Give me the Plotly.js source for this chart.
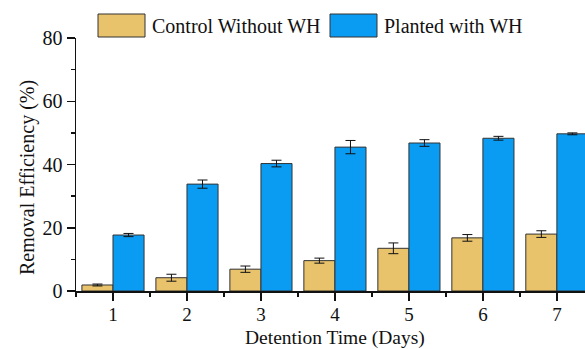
<!DOCTYPE html>
<html>
<head>
<meta charset="utf-8">
<script src="https://cdn.plot.ly/plotly-3.0.1.min.js"></script>
<style>html,body{margin:0;padding:0;background:#fff;}#chart{width:585px;height:349px;}</style>
</head>
<body>
<div id="chart"></div>
<script>
const days = [1, 2, 3, 4, 5, 6, 7];
const controlValues = [1.9, 4.2, 6.9, 9.6, 13.5, 16.8, 18.0];
const controlErrors = [0.3, 1.1, 1.0, 0.8, 1.7, 1.05, 1.05];
const plantedValues = [17.7, 33.8, 40.3, 45.5, 46.8, 48.3, 49.7];
const plantedErrors = [0.5, 1.3, 1.05, 2.1, 1.05, 0.6, 0.3];
const seriesNames = ['Control Without WH', 'Planted with WH'];
const xTitle = 'Detention Time (Days)';
const yTitle = 'Removal Efficiency (%)';
const goldColor = '#E8C36B';
const blueColor = '#0A9CF2';

const font = {family: 'Liberation Serif, Times New Roman, serif', size: 20, color: '#111'};
const tickFontX = {family: font.family, size: 19, color: '#111'};

const traces = [
  {
    type: 'bar', name: seriesNames[0], x: days, y: controlValues,
    marker: {color: goldColor, line: {color: '#333', width: 1}},
    error_y: {type: 'data', array: controlErrors, visible: true, color: '#111', thickness: 1, width: 5}
  },
  {
    type: 'bar', name: seriesNames[1], x: days, y: plantedValues,
    marker: {color: blueColor, line: {color: '#333', width: 1}},
    error_y: {type: 'data', array: plantedErrors, visible: true, color: '#111', thickness: 1, width: 5}
  }
];

const px = v => (v - 76) / 509;
const py = v => (291 - v) / 253;

const layout = {
  width: 585, height: 349,
  margin: {l: 76, r: 0, t: 38, b: 58, pad: 0},
  paper_bgcolor: '#fff', plot_bgcolor: '#fff',
  showlegend: false,
  barmode: 'group', bargap: 0.16, bargroupgap: 0,
  font: font,
  xaxis: {
    range: [0.5, 7.38], tickmode: 'array', tickvals: days, ticktext: days.map(String),
    showgrid: false, zeroline: false, showline: true, linecolor: '#111', linewidth: 1.5,
    ticks: 'outside', ticklen: 8, tickwidth: 1.5, tickcolor: '#111',
    minor: {dtick: 0.5, tick0: 0.5, ticks: 'outside', ticklen: 4, tickwidth: 1.5, tickcolor: '#111', showgrid: false},
    tickfont: tickFontX, ticklabelstandoff: -2
  },
  yaxis: {
    range: [0, 80], dtick: 20, tick0: 0,
    showgrid: false, zeroline: false, showline: true, linecolor: '#111', linewidth: 1.5,
    ticks: 'outside', ticklen: 8, tickwidth: 1.5, tickcolor: '#111',
    minor: {dtick: 10, ticks: 'outside', ticklen: 4, tickwidth: 1.5, tickcolor: '#111', showgrid: false},
    tickfont: font
  },
  shapes: [
    {type: 'rect', xref: 'paper', yref: 'paper', x0: px(98), x1: px(145), y0: py(37), y1: py(14),
     fillcolor: goldColor, line: {color: '#333', width: 1}},
    {type: 'rect', xref: 'paper', yref: 'paper', x0: px(330), x1: px(377), y0: py(37), y1: py(14),
     fillcolor: blueColor, line: {color: '#333', width: 1}}
  ],
  annotations: [
    {xref: 'paper', yref: 'paper', x: px(150), y: py(25.5), xanchor: 'left', yanchor: 'middle',
     text: seriesNames[0], showarrow: false, font: font},
    {xref: 'paper', yref: 'paper', x: px(382), y: py(25.5), xanchor: 'left', yanchor: 'middle',
     text: seriesNames[1], showarrow: false, font: font},
    {xref: 'paper', yref: 'paper', x: px(335), y: py(338), xanchor: 'center', yanchor: 'middle',
     text: xTitle, showarrow: false, font: {family: font.family, size: 19.5, color: '#111'}},
    {xref: 'paper', yref: 'paper', x: px(27), y: py(178), xanchor: 'center', yanchor: 'middle',
     text: yTitle, textangle: -90, showarrow: false, font: font}
  ]
};

Plotly.newPlot('chart', traces, layout, {displayModeBar: false, staticPlot: true});
</script>
</body>
</html>
